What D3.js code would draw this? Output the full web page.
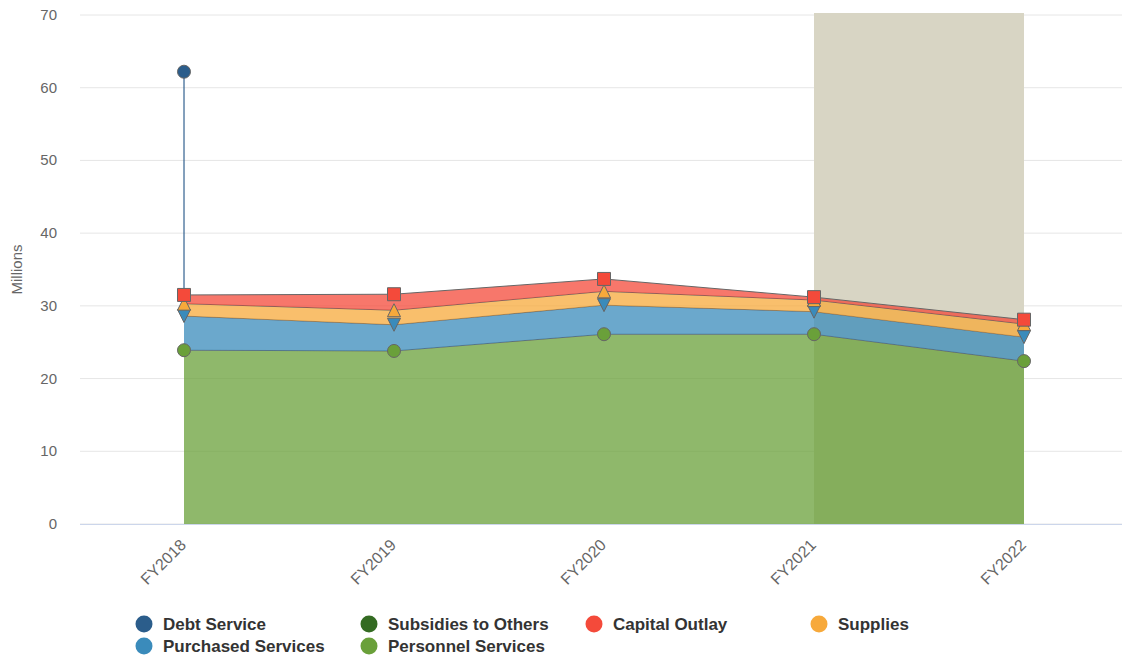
<!DOCTYPE html>
<html>
<head>
<meta charset="utf-8">
<style>
  body { margin: 0; background: #fff; }
  svg text { font-family: "Liberation Sans", Arial, sans-serif; }
</style>
</head>
<body>
<div id="container"></div>
<script src="https://cdn.jsdelivr.net/npm/d3@7"></script>
<script>

// values in millions
const years = ["FY2018", "FY2019", "FY2020", "FY2021", "FY2022"];
const debtService       = [30.7, null, null, null, null];
const subsidiesToOthers = [null, null, null, null, null];
const capitalOutlay     = [1.2, 2.2, 1.7, 0.4, 0.6];
const supplies          = [1.7, 2.0, 1.9, 1.6, 1.8];
const purchasedServices = [4.7, 3.6, 4.0, 3.1, 3.3];
const personnelServices = [23.9, 23.8, 26.1, 26.1, 22.4];
const yTicks = [0, 10, 20, 30, 40, 50, 60, 70];
const bandYears = ["FY2021", "FY2022"];

// series in legend order (first one ends up on top of the stack)
const series = [
  { name: "Debt Service",        values: debtService,       color: "#2b5d8b", symbol: d3.symbolCircle },
  { name: "Subsidies to Others", values: subsidiesToOthers, color: "#346b22", symbol: d3.symbolDiamond },
  { name: "Capital Outlay",      values: capitalOutlay,     color: "#f44a3a", symbol: d3.symbolSquare },
  { name: "Supplies",            values: supplies,          color: "#f7a93b", symbol: d3.symbolTriangle },
  { name: "Purchased Services",  values: purchasedServices, color: "#3a8bbb", symbol: "tri-down" },
  { name: "Personnel Services",  values: personnelServices, color: "#6aa03a", symbol: d3.symbolCircle }
];

const width = 1122, height = 657;
const plotLeft = 80, plotRight = 1122, plotTop = 15, plotBottom = 524;

const svg = d3.create("svg").attr("width", width).attr("height", height);

const x = d3.scalePoint().domain(years).range([plotLeft + 104, plotRight - 98]);
const y = d3.scaleLinear().domain([0, 70]).range([plotBottom, plotTop]);

// grid
svg.append("g").selectAll("line").data(yTicks).enter().append("line")
  .attr("x1", plotLeft).attr("x2", plotRight)
  .attr("y1", d => y(d)).attr("y2", d => y(d))
  .attr("stroke", "#e6e6e6");

// plot band
svg.append("rect")
  .attr("x", x(bandYears[0])).attr("width", x(bandYears[1]) - x(bandYears[0]))
  .attr("y", plotTop - 2).attr("height", plotBottom - plotTop + 2)
  .attr("fill", "#d8d5c4");

// stacking, bottom series last in the list
const stackOrder = series.slice().reverse();
const table = years.map((yr, i) => {
  let row = { year: yr };
  stackOrder.forEach(s => row[s.name] = s.values[i] || 0);
  return row;
});
const stacked = d3.stack().keys(stackOrder.map(s => s.name))(table);

const area = d3.area()
  .x(d => x(d.data.year))
  .y0(d => y(d[0])).y1(d => y(d[1]));
const line = d3.line()
  .x(d => x(d.data.year))
  .y(d => y(d[1]));

stackOrder.forEach((s, k) => {
  const pts = stacked[k].filter((d, i) => s.values[i] != null);
  if (pts.length === 0) return;
  if (pts.length === 1) {
    svg.append("path").attr("d", area(pts))
      .attr("fill", "none").attr("stroke", s.color).attr("stroke-opacity", 0.7);
    return;
  }
  svg.append("path").attr("d", area(pts))
    .attr("fill", s.color).attr("fill-opacity", 0.75);
  svg.append("path").attr("d", line(pts))
    .attr("fill", "none").attr("stroke", "#666666").attr("stroke-width", 1);
});

// x axis line
svg.append("line")
  .attr("x1", plotLeft).attr("x2", plotRight)
  .attr("y1", plotBottom + 0.5).attr("y2", plotBottom + 0.5)
  .attr("stroke", "#ccd6eb");

// markers
function markerPath(sym) {
  if (sym === "tri-down") return "M-6.5,-6.5L6.5,-6.5L0,6.5Z";
  if (sym === d3.symbolTriangle) return "M0,-6.5L6.5,6.5L-6.5,6.5Z";
  if (sym === d3.symbolSquare) return "M-6.5,-6.5H6.5V6.5H-6.5Z";
  return d3.symbol(sym, 133)();
}
stackOrder.forEach((s, k) => {
  stacked[k].forEach((d, i) => {
    if (s.values[i] == null) return;
    svg.append("path")
      .attr("d", markerPath(s.symbol))
      .attr("transform", `translate(${x(d.data.year)},${y(d[1])})`)
      .attr("fill", s.color)
      .attr("stroke", "#666666").attr("stroke-width", 1);
  });
});

// y labels
svg.append("g").selectAll("text").data(yTicks).enter().append("text")
  .attr("x", 57).attr("y", d => y(d) + 5)
  .attr("text-anchor", "end")
  .attr("font-size", 15).attr("fill", "#666666")
  .text(d => d);

svg.append("text")
  .attr("transform", `translate(22,${(plotTop + plotBottom) / 2}) rotate(-90)`)
  .attr("text-anchor", "middle")
  .attr("font-size", 15).attr("fill", "#666666")
  .text("Millions");

// x labels
svg.append("g").selectAll("text").data(years).enter().append("text")
  .attr("transform", d => `translate(${x(d) + 3},${plotBottom + 22}) rotate(-45)`)
  .attr("text-anchor", "end")
  .attr("font-size", 16).attr("fill", "#666666")
  .text(d => d);

// legend
const legend = svg.append("g").selectAll("g").data(series).enter().append("g")
  .attr("transform", (d, i) => `translate(${144 + 225 * (i % 4)},${624 + 22 * Math.floor(i / 4)})`);
legend.append("circle").attr("r", 8.5).attr("fill", d => d.color);
legend.append("text")
  .attr("x", 19).attr("y", 6)
  .attr("font-size", 17).attr("font-weight", "bold").attr("fill", "#333333")
  .text(d => d.name);

container.append(svg.node());
</script>
</body>
</html>
